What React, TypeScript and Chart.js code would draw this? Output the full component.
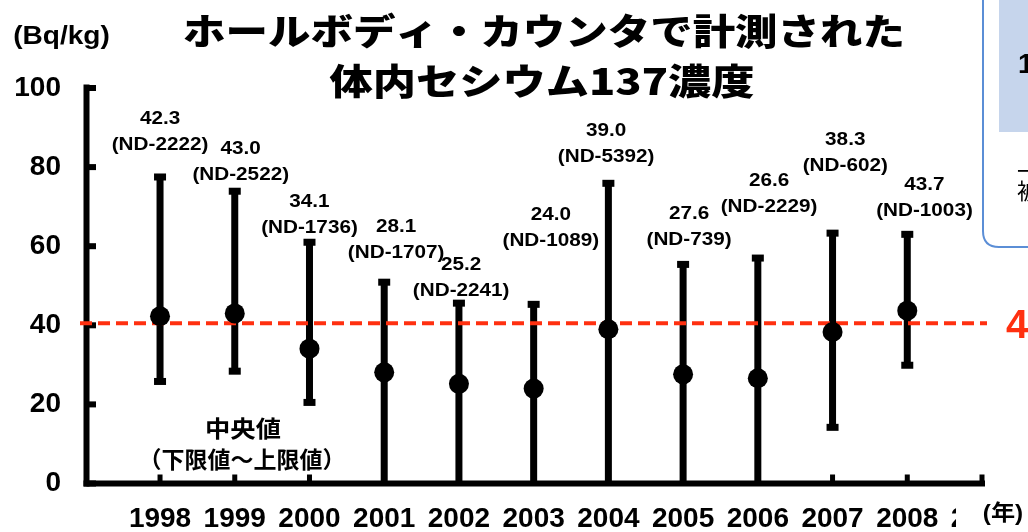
import React, { useEffect, useRef } from 'react';
import { Chart, registerables } from 'chart.js';

Chart.register(...registerables);

// ---------------- data ----------------
const years = ['1998', '1999', '2000', '2001', '2002', '2003', '2004', '2005', '2006', '2007', '2008', '2009'];
const medians = [42.3, 43.0, 34.1, 28.1, 25.2, 24.0, 39.0, 27.6, 26.6, 38.3, 43.7];
const upperLimits = [77.5, 73.9, 61.0, 50.9, 45.6, 45.3, 75.9, 55.4, 57.0, 63.3, 63.0];
const lowerLimits = [25.8, 28.4, 20.5, 0, 0, 0, 0, 0, 0, 14.2, 29.9];
const rangeLabels = ['(ND-2222)', '(ND-2522)', '(ND-1736)', '(ND-1707)', '(ND-2241)', '(ND-1089)', '(ND-5392)', '(ND-739)', '(ND-2229)', '(ND-602)', '(ND-1003)'];
const referenceValue = 40.5;
const referenceLabel = '40.5';
const yTicks = [0, 20, 40, 60, 80, 100];
const titleLines = ['ホールボディ・カウンタで計測された', '体内セシウム137濃度'];
const yUnit = '(Bq/kg)';
const xUnit = '(年)';
const legendLines = ['中央値', '（下限値～上限値）'];

// ---------------- layout (label placement, not data) ----------------
const labelDx = [0, 0.08, 0, 0.16, 0.03, 0.23, -0.03, 0.08, 0.15, 0.17, 0.23];
const labelY = [85.6, 78.0, 64.6, 58.3, 48.7, 61.3, 82.6, 61.6, 69.9, 80.3, 68.9];

const LATIN = '"Liberation Sans", Arial, "Noto Sans CJK JP", sans-serif';
const JP = '"Noto Sans CJK JP", "Noto Sans CJK SC", sans-serif';

function drawText(ctx: CanvasRenderingContext2D, text: string, x: number, y: number, font: string, sx = 1, align: CanvasTextAlign = 'center', color = '#000') {
  ctx.save();
  ctx.font = font;
  ctx.fillStyle = color;
  ctx.textAlign = align;
  ctx.textBaseline = 'middle';
  ctx.translate(x, y);
  ctx.scale(sx, 1);
  ctx.fillText(text, 0, 0);
  ctx.restore();
}

function fitText(ctx: CanvasRenderingContext2D, text: string, cx: number, cy: number, font: string, width: number) {
  ctx.save();
  ctx.font = font;
  const w = ctx.measureText(text).width;
  ctx.restore();
  drawText(ctx, text, cx, cy, font, width / w, 'center');
}

const decorPlugin = {
  id: 'decor',
  beforeDatasetsDraw(chart: any) {
    const { ctx, chartArea, scales } = chart;
    const x = scales.x;
    const y = scales.y;
    ctx.save();
    ctx.fillStyle = '#000';
    const ax = chartArea.left - 1.5;
    const y0 = y.getPixelForValue(0);
    const yTop = y.getPixelForValue(yTicks[yTicks.length - 1]);
    const xEnd = x.getPixelForValue(years.length - 1);
    // y axis
    ctx.fillRect(ax - 3, yTop - 3.5, 6, y0 - yTop + 6.5);
    yTicks.forEach((v) => {
      const py = y.getPixelForValue(v);
      ctx.fillRect(ax, py - 3, 9.5, 6);
    });
    // x axis
    ctx.fillRect(ax - 3, y0 - 3, xEnd + 3 - (ax - 3), 6);
    years.forEach((_, i) => {
      const px = x.getPixelForValue(i);
      ctx.fillRect(px - 2.5, y0 - 9, 5, 9);
    });
    // error bars
    medians.forEach((_, i) => {
      const px = x.getPixelForValue(i);
      const pt = y.getPixelForValue(upperLimits[i]);
      const pb = y.getPixelForValue(lowerLimits[i]);
      ctx.fillRect(px - 3.5, pt, 7, pb - pt);
      ctx.fillRect(px - 6, pt - 3.5, 12, 7);
      if (lowerLimits[i] > 0) ctx.fillRect(px - 6, pb - 3.5, 12, 7);
    });
    // reference line
    const ry = y.getPixelForValue(referenceValue);
    ctx.strokeStyle = '#ff3010';
    ctx.lineWidth = 4;
    ctx.setLineDash([12, 6]);
    ctx.beginPath();
    ctx.moveTo(chartArea.left - 8, ry);
    ctx.lineTo(xEnd + 5, ry);
    ctx.stroke();
    ctx.restore();
  },
  afterDraw(chart: any) {
    const { ctx, scales } = chart;
    const x = scales.x;
    const y = scales.y;
    // value labels
    medians.forEach((m, i) => {
      const px = x.getPixelForValue(i + labelDx[i]);
      const py = y.getPixelForValue(labelY[i]);
      drawText(ctx, m.toFixed(1), px, py - 26, `bold 19px ${LATIN}`, 1.09);
      drawText(ctx, rangeLabels[i], px, py, `bold 19px ${LATIN}`, 1.09);
    });
    // title
    fitText(ctx, titleLines[0], 544, 31, `900 36px ${JP}`, 722);
    fitText(ctx, titleLines[1], 542, 81, `900 36px ${JP}`, 425);
    // y unit
    drawText(ctx, yUnit, 61.5, 37, `bold 26px ${LATIN}`, 1.08);
    // legend-like note
    drawText(ctx, legendLines[0], 243, 428, `bold 23px ${JP}`, 1.1);
    drawText(ctx, legendLines[1], 242, 459, `bold 23px ${JP}`, 1.0);
    // reference label (cut off at the right edge)
    const ry = y.getPixelForValue(referenceValue);
    drawText(ctx, referenceLabel, 1006, ry + 4, `bold 40px ${LATIN}`, 1, 'left', '#ff3010');
    // x unit with white background
    ctx.save();
    ctx.fillStyle = '#fff';
    ctx.fillRect(956, 498, 80, 40);
    ctx.restore();
    drawText(ctx, xUnit, 1003, 514, `bold 22px ${LATIN}`, 1.1);
    // partially visible callout box on the right
    ctx.save();
    ctx.fillStyle = '#c6d5ec';
    ctx.fillRect(999, -5, 40, 137);
    ctx.strokeStyle = '#5b8ed6';
    ctx.lineWidth = 2;
    ctx.beginPath();
    ctx.moveTo(983, -5);
    ctx.lineTo(983, 231);
    ctx.quadraticCurveTo(983, 247, 999, 247);
    ctx.lineTo(1040, 247);
    ctx.stroke();
    ctx.restore();
    drawText(ctx, '1', 1018, 65, `bold 28px ${LATIN}`, 1, 'left');
    drawText(ctx, '一', 1017, 171, `22px ${JP}`, 1, 'left');
    drawText(ctx, '被', 1017, 191, `22px ${JP}`, 1, 'left');
  },
};

export default function App() {
  const canvasRef = useRef<HTMLCanvasElement | null>(null);

  useEffect(() => {
    const canvas = canvasRef.current;
    if (!canvas) return;
    const chart = new Chart(canvas, {
      type: 'scatter',
      data: {
        datasets: [
          {
            data: medians.map((m, i) => ({ x: i, y: m })),
            pointRadius: 10,
            pointHoverRadius: 10,
            pointBackgroundColor: '#000',
            pointBorderColor: '#000',
            pointBorderWidth: 0,
            showLine: false,
          },
        ],
      },
      options: {
        responsive: false,
        animation: false,
        events: [],
        layout: { padding: { top: 88, right: 46, left: 0, bottom: 0 } },
        plugins: {
          legend: { display: false },
          tooltip: { enabled: false },
          title: { display: false },
        },
        scales: {
          x: {
            type: 'linear',
            min: -0.964,
            max: years.length - 1,
            grid: { display: false },
            border: { display: false },
            afterBuildTicks: (axis: any) => {
              axis.ticks = years.map((_, i) => ({ value: i }));
            },
            afterFit: (scale: any) => {
              scale.height = 48.5;
            },
            ticks: {
              autoSkip: false,
              maxRotation: 0,
              padding: 11,
              color: '#000',
              font: { family: LATIN, size: 28, weight: 'bold' },
              callback: (v: any) => years[v as number] ?? '',
            },
          },
          y: {
            min: yTicks[0],
            max: yTicks[yTicks.length - 1],
            grid: { display: false },
            border: { display: false },
            afterFit: (scale: any) => {
              scale.width = 88;
            },
            ticks: {
              stepSize: 20,
              padding: 19,
              color: '#000',
              font: { family: LATIN, size: 28, weight: 'bold' },
            },
          },
        },
      },
      plugins: [decorPlugin],
    } as any);
    return () => chart.destroy();
  }, []);

  return (
    <canvas
      ref={canvasRef}
      width={1028}
      height={532}
      style={{ position: 'fixed', left: 0, top: 0, width: 1028, height: 532 }}
    />
  );
}
